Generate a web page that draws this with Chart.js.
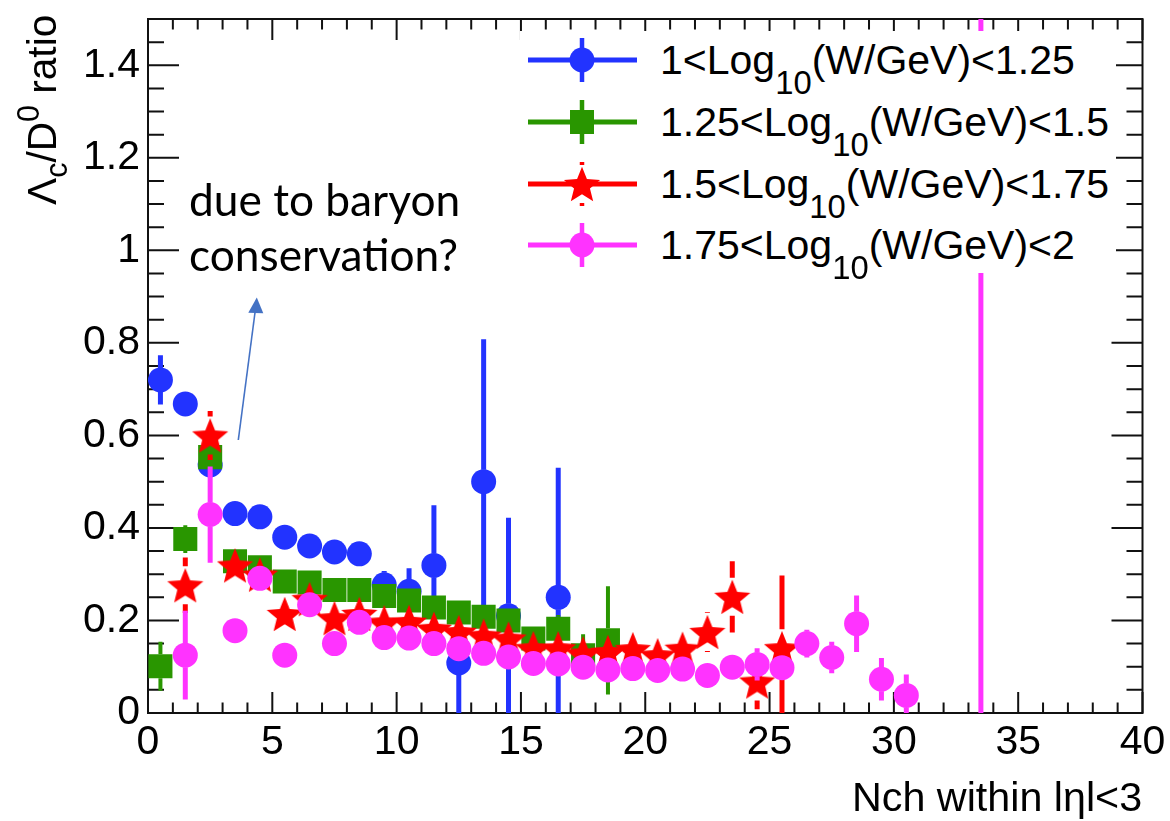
<!DOCTYPE html>
<html>
<head>
<meta charset="utf-8">
<title>Lambda_c / D0 ratio vs Nch</title>
<script src="https://cdn.jsdelivr.net/npm/chart.js@4.4.1/dist/chart.umd.min.js"></script>
<style>
  html, body { margin:0; padding:0; background:#fff; }
  #wrap { position:relative; width:1170px; height:821px; overflow:hidden; background:#fff; }
  #c { position:absolute; left:0; top:0; }
  .txt { position:absolute; white-space:nowrap; color:#000; line-height:1; font-family:'Liberation Sans', Arial, Helvetica, sans-serif; }
  .sub, .sup { position:relative; }
  #legend { position:absolute; left:520px; top:31px; width:596px; height:242px; background:#fff; }
  .note { font-family: Lato, 'Open Sans', sans-serif; }
</style>
</head>
<body>
<div id="wrap">
  <canvas id="c" width="1170" height="821"></canvas>
  <div id="legend"><svg id="legsvg" width="596" height="242" style="position:absolute;left:0;top:0;overflow:visible"></svg></div>
  <div class="txt" id="ytitle">Λ<span class="sub" id="ysub">c</span>/D<span class="sup" id="ysup">0</span> ratio</div>
  <div class="txt" id="xtitle">Nch within lηl&lt;3</div>
  <div class="txt note" id="note1">due to baryon</div>
  <div class="txt note" id="note2">conservation?</div>
  <svg id="arrow" width="1170" height="821" style="position:absolute;left:0;top:0;pointer-events:none">
    <line x1="238.3" y1="440" x2="255.2" y2="311" stroke="#4472c4" stroke-width="1.6"/>
    <polygon points="256.8,297.5 248.3,312.7 263.3,313.3" fill="#4472c4"/>
  </svg>
</div>
<script>
// ---------------- data ----------------
const xTicks = [0, 5, 10, 15, 20, 25, 30, 35, 40];
const yTicks = [0, 0.2, 0.4, 0.6, 0.8, 1, 1.2, 1.4];

const seriesLabels = [
  ['1<Log', '10', '(W/GeV)<1.25'],
  ['1.25<Log', '10', '(W/GeV)<1.5'],
  ['1.5<Log', '10', '(W/GeV)<1.75'],
  ['1.75<Log', '10', '(W/GeV)<2']
];

const blueX   = [0.5, 1.5, 2.5, 3.5, 4.5, 5.5, 6.5, 7.5, 8.5, 9.5, 10.5, 11.5, 12.5, 13.5, 14.5, 16.5];
const blueY   = [0.720, 0.668, 0.536, 0.431, 0.424, 0.380, 0.361, 0.348, 0.344, 0.277, 0.263, 0.319, 0.108, 0.500, 0.210, 0.250];
const blueErr = [0.053, 0.010, 0.010, 0.010, 0.010, 0.010, 0.010, 0.012, 0.012, 0.030, 0.050, 0.130, 0.110, 0.308, 0.212, 0.280];

const greenX   = [0.5, 1.5, 2.5, 3.5, 4.5, 5.5, 6.5, 7.5, 8.5, 9.5, 10.5, 11.5, 12.5, 13.5, 14.5, 15.5, 16.5, 17.5, 18.5];
const greenY   = [0.101, 0.376, 0.553, 0.328, 0.315, 0.284, 0.282, 0.266, 0.266, 0.253, 0.243, 0.228, 0.217, 0.208, 0.200, 0.161, 0.182, 0.125, 0.157];
const greenErr = [0.053, 0.030, 0.020, 0.010, 0.010, 0.010, 0.010, 0.010, 0.010, 0.012, 0.015, 0.015, 0.015, 0.015, 0.015, 0.015, 0.030, 0.045, 0.117];

const redX   = [1.5, 2.5, 3.5, 4.5, 5.5, 6.5, 7.5, 8.5, 9.5, 10.5, 11.5, 12.5, 13.5, 14.5, 15.5, 16.5, 17.5, 18.5, 19.5, 20.5, 21.5, 22.5, 23.5, 24.5, 25.5];
const redY   = [0.276, 0.600, 0.319, 0.299, 0.214, 0.246, 0.205, 0.214, 0.196, 0.197, 0.182, 0.175, 0.167, 0.161, 0.140, 0.140, 0.129, 0.132, 0.138, 0.125, 0.139, 0.175, 0.251, 0.068, 0.140];
const redErr = [0.060, 0.053, 0.010, 0.010, 0.012, 0.012, 0.012, 0.012, 0.012, 0.012, 0.012, 0.012, 0.012, 0.012, 0.012, 0.012, 0.015, 0.015, 0.015, 0.015, 0.020, 0.043, 0.077, 0.060, 0.157];

const pinkX   = [1.5, 2.5, 3.5, 4.5, 5.5, 6.5, 7.5, 8.5, 9.5, 10.5, 11.5, 12.5, 13.5, 14.5, 15.5, 16.5, 17.5, 18.5, 19.5, 20.5, 21.5, 22.5, 23.5, 24.5, 25.5, 26.5, 27.5, 28.5, 29.5, 30.5, 33.5];
const pinkY   = [0.125, 0.429, 0.178, 0.291, 0.125, 0.234, 0.150, 0.196, 0.163, 0.162, 0.150, 0.139, 0.129, 0.121, 0.107, 0.106, 0.099, 0.093, 0.096, 0.092, 0.095, 0.081, 0.099, 0.105, 0.098, 0.150, 0.120, 0.193, 0.073, 0.038, 1.200];
const pinkErr = [0.096, 0.104, 0.010, 0.010, 0.010, 0.010, 0.010, 0.010, 0.010, 0.010, 0.010, 0.010, 0.010, 0.010, 0.010, 0.010, 0.010, 0.010, 0.010, 0.010, 0.010, 0.010, 0.010, 0.035, 0.010, 0.030, 0.034, 0.061, 0.046, 0.045, 1.400];

// ---------------- styles ----------------
const colors = ['#2233ff', '#299600', '#ff0000', '#ff33ff'];
const STAR_R = 19, STAR_RATIO = 0.44;

function makeStar(color, R, ratio) {
  const size = Math.ceil(2 * R + 4);
  const c = document.createElement('canvas');
  c.width = size; c.height = size;
  const g = c.getContext('2d');
  g.translate(size / 2, size / 2 + 0.095 * R);
  g.beginPath();
  for (let k = 0; k < 10; k++) {
    const r = k % 2 === 0 ? R : R * ratio;
    const a = -Math.PI / 2 + k * Math.PI / 5;
    const px = r * Math.cos(a), py = r * Math.sin(a);
    if (k === 0) g.moveTo(px, py); else g.lineTo(px, py);
  }
  g.closePath();
  g.fillStyle = color;
  g.fill();
  return c;
}
const starImg = makeStar(colors[2], STAR_R, STAR_RATIO);

function pts(xs, ys) { return xs.map((x, i) => ({ x: x, y: ys[i] })); }

const datasets = [
  { label: seriesLabels[0].join(''), data: pts(blueX, blueY), errors: blueErr, barColor: colors[0], barWidth: 5, barGap: 12,
    pointStyle: 'circle', pointRadius: 12.5, pointHoverRadius: 12.5, pointBackgroundColor: colors[0], pointBorderWidth: 0, order: 4 },
  { label: seriesLabels[1].join(''), data: pts(greenX, greenY), errors: greenErr, barColor: colors[1], barWidth: 4, barGap: 12,
    pointStyle: 'rect', pointRadius: 17, pointHoverRadius: 17, pointBackgroundColor: colors[1], pointBorderWidth: 0, order: 3 },
  { label: seriesLabels[2].join(''), data: pts(redX, redY), errors: redErr, barColor: colors[2], barWidth: 5, barGap: 19,
    pointStyle: starImg, pointRadius: 19, pointHoverRadius: 19, pointBackgroundColor: colors[2], pointBorderWidth: 0, order: 2 },
  { label: seriesLabels[3].join(''), data: pts(pinkX, pinkY), errors: pinkErr, barColor: colors[3], barWidth: 5, barGap: 12,
    pointStyle: 'circle', pointRadius: 12.5, pointHoverRadius: 12.5, pointBackgroundColor: colors[3], pointBorderWidth: 0, order: 1 }
];

// ---------------- plugins ----------------
const frameTicks = {
  id: 'frameTicks',
  beforeDatasetsDraw(chart) {
    const { ctx, chartArea: a, scales: { x, y } } = chart;
    ctx.save();
    ctx.strokeStyle = '#111';
    ctx.lineWidth = 2;
    ctx.beginPath();
    for (let v = 0; v <= 40; v++) {
      const px = x.getPixelForValue(v);
      const L = v % 5 === 0 ? 21 : 10.5;
      ctx.moveTo(px, a.bottom); ctx.lineTo(px, a.bottom - L);
      ctx.moveTo(px, a.top); ctx.lineTo(px, a.top + L);
    }
    for (let k = 0; k <= 30; k++) {
      const py = y.getPixelForValue(k * 0.05);
      const L = k % 4 === 0 ? 31 : 16;
      ctx.moveTo(a.left, py); ctx.lineTo(a.left + L, py);
      ctx.moveTo(a.right, py); ctx.lineTo(a.right - L, py);
    }
    ctx.stroke();
    ctx.strokeRect(a.left, a.top, a.right - a.left, a.bottom - a.top);
    ctx.restore();
  }
};

const errorBars = {
  id: 'errorBars',
  beforeDatasetDraw(chart, args) {
    const ds = chart.data.datasets[args.index];
    if (!ds.errors) return;
    const { ctx, chartArea: a } = chart;
    const xs = chart.scales.x, ys = chart.scales.y;
    ctx.save();
    ctx.beginPath();
    ctx.rect(a.left, a.top, a.right - a.left, a.bottom - a.top);
    ctx.clip();
    ctx.strokeStyle = ds.barColor;
    ctx.lineWidth = ds.barWidth;
    ctx.lineCap = 'butt';
    ctx.beginPath();
    ds.data.forEach((p, i) => {
      const e = ds.errors[i];
      const px = xs.getPixelForValue(p.x);
      const py = ys.getPixelForValue(p.y);
      const top = ys.getPixelForValue(p.y + e);
      const bot = ys.getPixelForValue(p.y - e);
      const g = ds.barGap;
      if (py - top > g) { ctx.moveTo(px, top); ctx.lineTo(px, py - g); }
      if (bot - py > g) { ctx.moveTo(px, py + g); ctx.lineTo(px, bot); }
    });
    ctx.stroke();
    ctx.restore();
  }
};

// ---------------- chart ----------------
const tickFont = { family: "'Liberation Sans', Arial, Helvetica, sans-serif", size: 41 };

new Chart(document.getElementById('c'), {
  type: 'scatter',
  data: { datasets: datasets },
  options: {
    responsive: false,
    animation: false,
    devicePixelRatio: 1,
    events: [],
    layout: { padding: { top: 12, right: 27.5, left: 0, bottom: 0 } },
    plugins: { legend: { display: false }, tooltip: { enabled: false } },
    scales: {
      x: {
        type: 'linear', min: 0, max: 40,
        afterBuildTicks: s => { s.ticks = xTicks.map(v => ({ value: v })); },
        afterFit: s => { s.height = 108; s.paddingLeft = 0; s.paddingRight = 0; },
        ticks: { font: tickFont, color: '#000', padding: 5, autoSkip: false, maxRotation: 0, minRotation: 0, callback: v => String(v) },
        grid: { display: false, drawTicks: false },
        border: { display: false }
      },
      y: {
        type: 'linear', min: 0, max: 1.5,
        afterBuildTicks: s => { s.ticks = yTicks.map(v => ({ value: v })); },
        afterFit: s => { s.width = 148; s.paddingTop = 0; s.paddingBottom = 0; },
        ticks: { font: tickFont, color: '#000', padding: 8, autoSkip: false, callback: v => String(v) },
        grid: { display: false, drawTicks: false },
        border: { display: false }
      }
    }
  },
  plugins: [frameTicks, errorBars]
});

// ---------------- legend (HTML + SVG symbols) ----------------
const legendRowsY = [60, 122, 184, 245];
const LEG_LEFT = 520, LEG_TOP = 31;
const legend = document.getElementById('legend');
const svg = document.getElementById('legsvg');
const NS = 'http://www.w3.org/2000/svg';
function svgEl(tag, attrs) { const e = document.createElementNS(NS, tag); for (const k in attrs) e.setAttribute(k, attrs[k]); svg.appendChild(e); return e; }

const legendTexts = [];
seriesLabels.forEach((parts, i) => {
  const cy = legendRowsY[i] - LEG_TOP;
  const cx = 582 - LEG_LEFT;
  const col = colors[i];
  svgEl('line', { x1: 528 - LEG_LEFT, y1: cy, x2: 637 - LEG_LEFT, y2: cy, stroke: col, 'stroke-width': 5 });
  const gap = i === 2 ? 19 : 12;
  svgEl('line', { x1: cx, y1: cy - 22, x2: cx, y2: cy - gap, stroke: col, 'stroke-width': 4.5 });
  svgEl('line', { x1: cx, y1: cy + gap, x2: cx, y2: cy + 22, stroke: col, 'stroke-width': 4.5 });
  if (i === 1) {
    svgEl('rect', { x: cx - 12, y: cy - 12, width: 24, height: 24, fill: col });
  } else if (i === 2) {
    const R = STAR_R, r = R * STAR_RATIO; let p = [];
    for (let k = 0; k < 10; k++) { const rr = k % 2 === 0 ? R : r; const a = -Math.PI / 2 + k * Math.PI / 5; p.push((cx + rr * Math.cos(a)).toFixed(2) + ',' + (cy + 0.095 * R + rr * Math.sin(a)).toFixed(2)); }
    svgEl('polygon', { points: p.join(' '), fill: col });
  } else {
    svgEl('circle', { cx: cx, cy: cy, r: 12.5, fill: col });
  }
  const d = document.createElement('div');
  d.className = 'txt';
  d.appendChild(document.createTextNode(parts[0]));
  const s = document.createElement('span'); s.className = 'sub'; s.textContent = parts[1];
  d.appendChild(s);
  d.appendChild(document.createTextNode(parts[2]));
  legend.appendChild(d);
  legendTexts.push(d);
});

// ---------------- text layout ----------------
function layoutTexts() {
  const base = 40;
  legendTexts.forEach(d => { d.style.fontSize = base + 'px'; d.querySelector('.sub').style.fontSize = '0.8em'; });
  const w2 = legendTexts[1].offsetWidth;
  const ls = base * 449 / w2;
  legendTexts.forEach((d, i) => {
    d.style.fontSize = ls + 'px';
    const sb = d.querySelector('.sub');
    sb.style.fontSize = '0.8em';
    sb.style.top = (0.5 * ls) + 'px';
    const baseline = legendRowsY[i] + 0.358 * ls;
    d.style.left = (660 - LEG_LEFT) + 'px';
    d.style.top = (baseline - 0.8465 * ls - LEG_TOP) + 'px';
  });

  const xt = document.getElementById('xtitle');
  xt.style.fontSize = base + 'px';
  const xs = base * 290 / xt.offsetWidth;
  xt.style.fontSize = xs + 'px';
  xt.style.left = (1142 - xt.offsetWidth) + 'px';
  xt.style.top = (812 - 0.8465 * xs) + 'px';

  const yt = document.getElementById('ytitle');
  const ysub = document.getElementById('ysub'), ysup = document.getElementById('ysup');
  yt.style.fontSize = base + 'px';
  ysub.style.fontSize = '0.75em'; ysup.style.fontSize = '0.75em';
  const ysz = base * 190 / yt.offsetWidth;
  yt.style.fontSize = ysz + 'px';
  ysub.style.top = (0.28 * ysz) + 'px';
  ysup.style.top = (-0.42 * ysz) + 'px';
  yt.style.transformOrigin = '0 0';
  yt.style.transform = 'rotate(-90deg)';
  yt.style.left = (42 - 0.4885 * ysz) + 'px';
  yt.style.top = '205px';

  const n1 = document.getElementById('note1'), n2 = document.getElementById('note2');
  n1.style.fontSize = base + 'px'; n2.style.fontSize = base + 'px';
  const ns = base * (270 / n1.offsetWidth + 270 / n2.offsetWidth) / 2;
  [n1, n2].forEach((n, i) => {
    n.style.fontSize = ns + 'px';
    n.style.left = '189px';
    n.style.top = ((i === 0 ? 216.7 : 271.7) - 0.887 * ns) + 'px';
  });
}
layoutTexts();
if (document.fonts && document.fonts.ready) document.fonts.ready.then(layoutTexts);
</script>
</body>
</html>
